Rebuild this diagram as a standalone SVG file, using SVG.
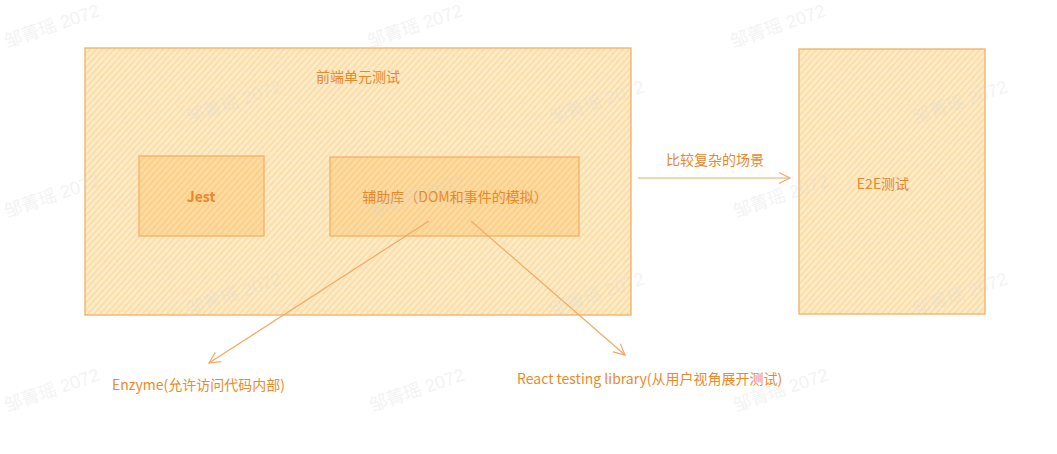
<svg xmlns="http://www.w3.org/2000/svg" width="1057" height="454" viewBox="0 0 1057 454">
<style>
.box{stroke:#f4b46c;stroke-width:1.4}
.lbl{font-family:"Noto Sans CJK SC","Liberation Sans",sans-serif;font-size:14px;fill:#e8872c;text-anchor:middle;dominant-baseline:central}
.lbl-b{font-weight:bold}
.note{font-family:"Noto Sans CJK SC","Liberation Sans",sans-serif;font-size:14px;fill:#ec8a2a;dominant-baseline:central}
.edge{stroke:#f4a863;stroke-width:1.2;fill:none}
.wm{font-family:"Liberation Sans","Noto Sans CJK SC",sans-serif;font-size:18px;fill:#d8d8d8;opacity:0.3}
</style>
<defs>
<pattern id="hatch" patternUnits="userSpaceOnUse" width="4.5" height="4.5" patternTransform="rotate(42)">
<rect width="4.5" height="4.5" fill="#fdebc8"/>
<line x1="1" y1="0" x2="1" y2="4.5" stroke="#fbdca3" stroke-width="1.6"/>
</pattern>
<pattern id="hatch2" patternUnits="userSpaceOnUse" width="4.5" height="4.5" patternTransform="rotate(42)">
<rect width="4.5" height="4.5" fill="#fcdaa0"/>
<line x1="1" y1="0" x2="1" y2="4.5" stroke="#f9cf86" stroke-width="1.6"/>
</pattern>
<marker id="arr" markerWidth="14" markerHeight="14" refX="12" refY="7" orient="auto" markerUnits="userSpaceOnUse">
<path d="M1,1.5 L12,7 L1,12.5" fill="none" stroke="#f4a863" stroke-width="1.2"/>
</marker>
</defs>
<g id="node-frontend-unit">
<rect class="box" x="85" y="48" width="546" height="267" fill="url(#hatch)"/>
<text class="lbl" x="358" y="76">前端单元测试</text>
</g>
<g id="node-jest">
<rect class="box" x="139" y="156" width="125" height="80" fill="url(#hatch2)"/>
<text class="lbl lbl-b" x="201" y="196">Jest</text>
</g>
<g id="node-helper">
<rect class="box" x="330" y="157" width="249" height="79" fill="url(#hatch2)"/>
<text class="lbl" x="455" y="196">辅助库（DOM和事件的模拟）</text>
</g>
<g id="node-e2e">
<rect class="box" x="799" y="49" width="186" height="265" fill="url(#hatch)"/>
<text class="lbl" x="883" y="183">E2E测试</text>
</g>
<g id="node-enzyme">
<text class="note" x="112" y="384">Enzyme(允许访问代码内部)</text>
</g>
<g id="node-rtl">
<text class="note" x="517" y="378">React testing library(从用户视角展开测试)</text>
</g>
<g id="connectors">
<line class="edge" x1="429" y1="221" x2="209" y2="363" marker-end="url(#arr)"/>
<line class="edge" x1="471" y1="221" x2="625" y2="355" marker-end="url(#arr)"/>
<line class="edge" x1="638" y1="178" x2="790" y2="178" marker-end="url(#arr)"/>
<text class="lbl" x="715" y="159">比较复杂的场景</text>
</g>
<g id="watermarks">
<text class="wm" transform="translate(7,48) rotate(-19)">邹菁瑶 2072</text>
<text class="wm" transform="translate(370,48) rotate(-19)">邹菁瑶 2072</text>
<text class="wm" transform="translate(733,48) rotate(-19)">邹菁瑶 2072</text>
<text class="wm" transform="translate(189,124) rotate(-19)">邹菁瑶 2072</text>
<text class="wm" transform="translate(552,124) rotate(-19)">邹菁瑶 2072</text>
<text class="wm" transform="translate(915,124) rotate(-19)">邹菁瑶 2072</text>
<text class="wm" transform="translate(7,218) rotate(-19)">邹菁瑶 2072</text>
<text class="wm" transform="translate(372,218) rotate(-19)">邹菁瑶 2072</text>
<text class="wm" transform="translate(736,218) rotate(-19)">邹菁瑶 2072</text>
<text class="wm" transform="translate(189,316) rotate(-19)">邹菁瑶 2072</text>
<text class="wm" transform="translate(552,316) rotate(-19)">邹菁瑶 2072</text>
<text class="wm" transform="translate(915,316) rotate(-19)">邹菁瑶 2072</text>
<text class="wm" transform="translate(7,412) rotate(-19)">邹菁瑶 2072</text>
<text class="wm" transform="translate(372,412) rotate(-19)">邹菁瑶 2072</text>
<text class="wm" transform="translate(736,412) rotate(-19)">邹菁瑶 2072</text>
</g>
</svg>
